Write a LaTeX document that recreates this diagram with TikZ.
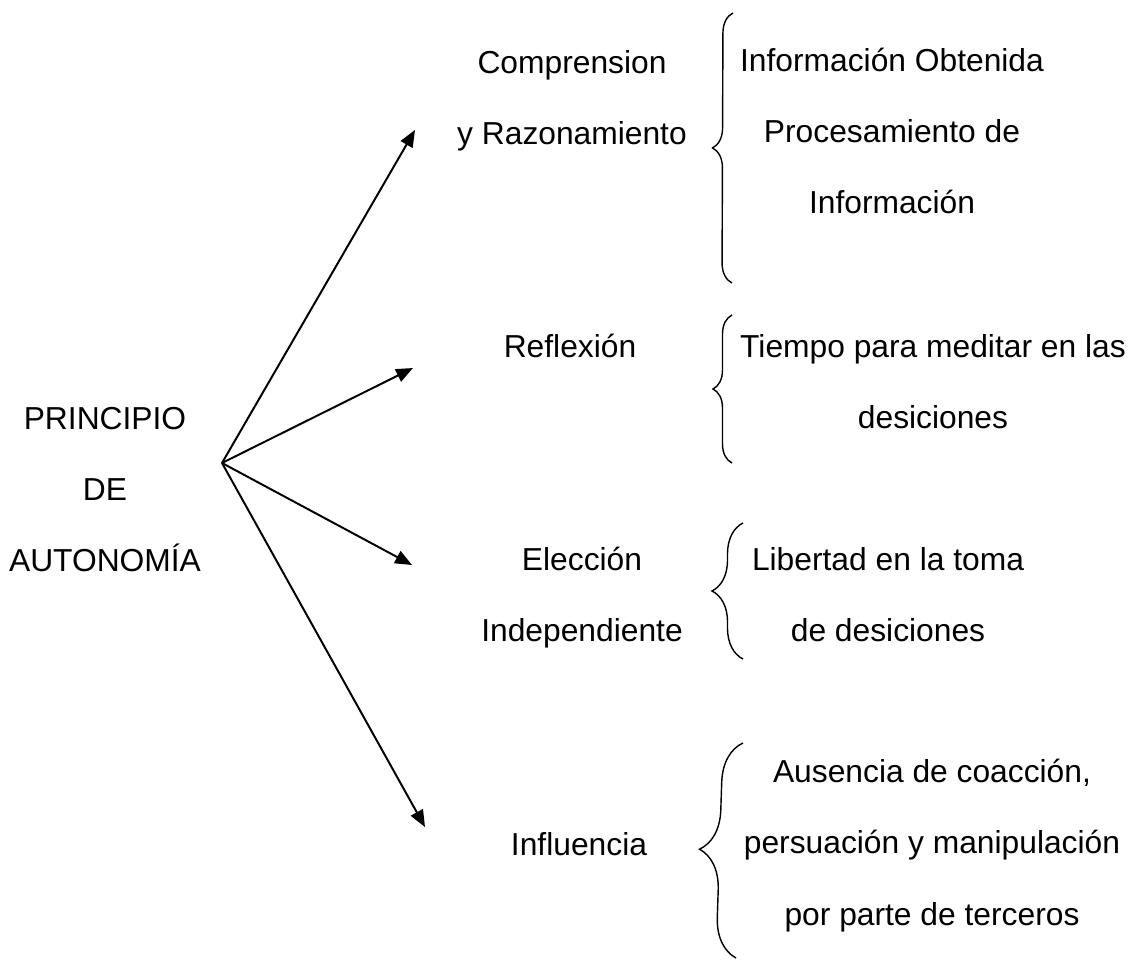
\documentclass[tikz,border=0pt]{standalone}
\usepackage{fontspec}
\setmainfont{Liberation Sans}
\usetikzlibrary{arrows.meta}
\usetikzlibrary{decorations.pathreplacing}

\begin{document}
\begin{tikzpicture}[
  texto/.style={anchor=base, inner sep=0pt, align=center, font=\fontsize{22.6pt}{50.6pt}\selectfont},
  flecha/.style={-{Triangle[length=0.42cm, width=0.34cm]}, line width=1.4pt},
  llave/.style={decorate, decoration={brace, amplitude=#1}, line width=1pt}
]
  \useasboundingbox (0,0) rectangle (28.475,-24.025);
  % izquierda
  \node[texto] (principio) at (2.625,-14.3) {PRINCIPIO\\DE\hspace*{0.8cm}\\AUTONOMÍA};
  % columna del medio
  \node[texto] (comprension) at (14.3,-3.625) {Comprension\\y Razonamiento};
  \node[texto] (reflexion) at (14.25,-8.95) {Reflexión};
  \node[texto] (eleccion) at (14.55,-16.05) {Elección\\Independiente};
  \node[texto] (influencia) at (14.475,-21.375) {Influencia};
  % columna derecha
  \node[texto] (informacion) at (22.3,-5.35) {Información Obtenida\\Procesamiento de\\Información};
  \node[texto] (tiempo) at (23.325,-10.725) {Tiempo para meditar en las\\desiciones};
  \node[texto] (libertad) at (22.2,-16.05) {Libertad en la toma\\de desiciones};
  \node[texto] (ausencia) at (23.3,-23.125) {Ausencia de coacción,\\persuación y manipulación\\por parte de terceros};
  % flechas
  \coordinate (centro) at (5.55,-11.575);
  \coordinate (fin1) at (10.375,-3.25);
  \coordinate (fin2) at (10.325,-9.2);
  \coordinate (fin3) at (10.3,-14.125);
  \coordinate (fin4) at (10.625,-20.675);
  \draw [flecha] (centro) -- (fin1);
  \draw [flecha] (centro) -- (fin2);
  \draw [flecha] (centro) -- (fin3);
  \draw [flecha] (centro) -- (fin4);
  % llaves
  \draw [llave=0.5cm] (18.3,-7.075) -- (18.325,-0.325);
  \draw [llave=0.475cm] (18.3,-11.575) -- (18.3,-7.875);
  \draw [llave=0.775cm] (18.575,-16.475) -- (18.575,-13.075);
  \draw [llave=1cm] (18.4,-23.95) -- (18.575,-18.575);
\end{tikzpicture}
\end{document}
